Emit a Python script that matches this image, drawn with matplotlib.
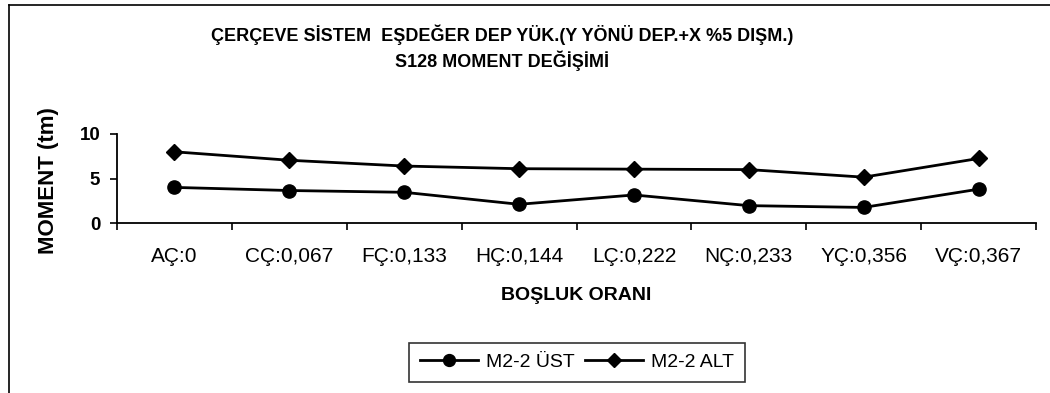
import matplotlib
matplotlib.use("Agg")
import matplotlib.pyplot as plt
from matplotlib.lines import Line2D

plt.rcParams['font.family'] = ['Liberation Sans', 'DejaVu Sans']

categories = ["AÇ:0", "CÇ:0,067", "FÇ:0,133", "HÇ:0,144",
              "LÇ:0,222", "NÇ:0,233", "YÇ:0,356", "VÇ:0,367"]
ust_values = [4.0, 3.65, 3.45, 2.1, 3.15, 1.95, 1.75, 3.8]
alt_values = [8.0, 7.05, 6.4, 6.1, 6.05, 6.0, 5.15, 7.25]
y_ticks = [0, 5, 10]

title_line1 = "ÇERÇEVE SİSTEM  EŞDEĞER DEP YÜK.(Y YÖNÜ DEP.+X %5 DIŞM.)"
title_line2 = "S128 MOMENT DEĞİŞİMİ"

W, H = 1050, 393
fig = plt.figure(figsize=(W / 100, H / 100), dpi=100)
fig.patch.set_facecolor("white")

ax = fig.add_axes([117 / W, 1 - 223 / H, (1036 - 117) / W, (223 - 134) / H])
x = list(range(len(categories)))

ax.plot(x, ust_values, color="black", lw=2.0, marker="o", ms=9.5,
        label="M2-2 ÜST", clip_on=False)
ax.plot(x, alt_values, color="black", lw=2.0, marker="D", ms=8,
        label="M2-2 ALT", clip_on=False)

ax.set_xlim(-0.5, len(categories) - 0.5)
ax.set_ylim(0, 10)
for s in ("top", "right"):
    ax.spines[s].set_visible(False)
ax.spines["left"].set_linewidth(1.3)
ax.spines["bottom"].set_linewidth(1.3)

ax.set_yticks(y_ticks)
ax.set_yticklabels([str(v) for v in y_ticks], fontsize=13.5, fontweight="bold")
ax.tick_params(axis="y", direction="out", length=5, width=1.2, pad=7)

ax.set_xticks(x)
ax.set_xticklabels(categories, fontsize=15)
ax.set_xticks([i - 0.5 for i in range(len(categories) + 1)], minor=True)
ax.tick_params(axis="x", which="major", length=0, pad=17)
ax.tick_params(axis="x", which="minor", direction="out", length=5, width=1.2)

ax.set_xlabel("BOŞLUK ORANI", fontsize=14, fontweight="bold")
ax.xaxis.set_label_coords(0.5, -(296 - 223) / (223 - 134), transform=ax.transAxes)
ax.xaxis.label.set_va("center")
ax.set_ylabel("MOMENT (tm)", fontsize=16, fontweight="bold")
ax.yaxis.set_label_coords((49 - 117) / (1036 - 117), 0.48)
ax.yaxis.label.set_va("center")

fig.text(0.478, 1 - 35 / H, title_line1, ha="center", va="center",
         fontsize=13, fontweight="bold")
fig.text(0.478, 1 - 61 / H, title_line2, ha="center", va="center",
         fontsize=13, fontweight="bold")

leg = fig.legend(loc="center", bbox_to_anchor=(577 / W, 1 - 362 / H), ncol=2,
                 frameon=True, fancybox=False, edgecolor="black",
                 fontsize=14, handlelength=3.0, columnspacing=0.5,
                 handletextpad=0.4, borderpad=0.55, markerscale=0.9)
leg.get_frame().set_linewidth(1.2)

# outer chart frame (top and left edges)
fig.add_artist(Line2D([9 / W, 9 / W], [0, 1 - 5 / H], transform=fig.transFigure,
                      color="black", lw=1.2))
fig.add_artist(Line2D([9 / W, 1], [1 - 5 / H, 1 - 5 / H], transform=fig.transFigure,
                      color="black", lw=1.2))

fig.savefig("out.png", dpi=100)
